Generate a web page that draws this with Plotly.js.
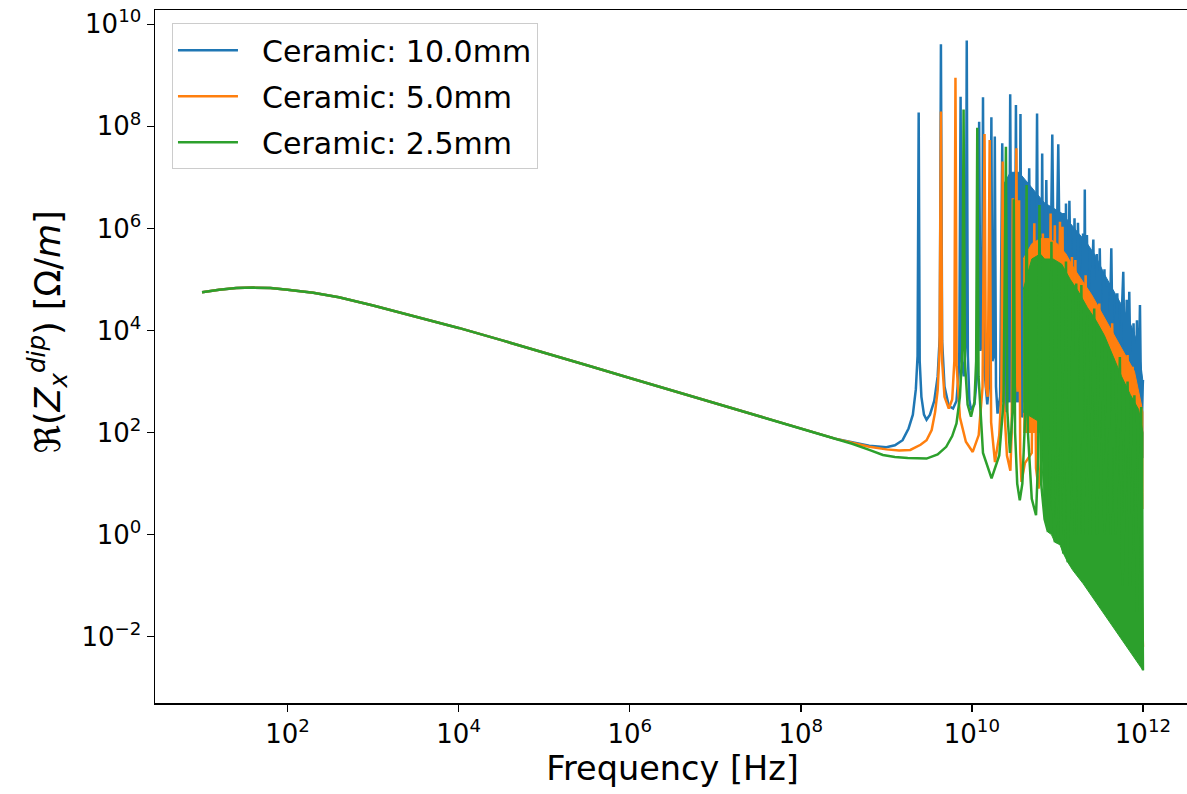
<!DOCTYPE html>
<html>
<head>
<meta charset="utf-8">
<script src="https://cdn.plot.ly/plotly-3.0.1.min.js"></script>
<style>html,body{margin:0;padding:0;background:#fff;overflow:hidden;}#chart{width:1192px;height:794px;}</style>
</head>
<body>
<div id="chart"></div>
<script>
// ---- data (log10 exponents) ----
const seriesNames = ['Ceramic: 10.0mm', 'Ceramic: 5.0mm', 'Ceramic: 2.5mm'];
const seriesColors = ['#1f77b4', '#ff7f0e', '#2ca02c'];
const xTitle = 'Frequency [Hz]';
const yTitle = '\u211C(<i>Z</i><sub><i>x</i></sub><sup><i>dip</i></sup>) [\u03A9/<i>m</i>]';

// shared low-frequency part (log10 f [Hz], log10 Re Z [Ohm/m])
const baseFreqExp = [1.0, 1.2, 1.4, 1.6, 1.8, 2.0, 2.3, 2.6, 3.0, 3.5, 4.0, 4.5, 5.0, 5.5, 6.0, 6.5, 7.0, 7.5, 8.0, 8.4];
const baseZExp    = [4.75, 4.80, 4.83, 4.84, 4.83, 4.80, 4.74, 4.65, 4.49, 4.27, 4.05, 3.81, 3.57, 3.32, 3.07, 2.82, 2.57, 2.32, 2.07, 1.88];

// 10.0 mm resonances
const blueFreqExp = [8.6, 8.8, 9.0, 9.1, 9.19, 9.26, 9.31, 9.345, 9.365, 9.378, 9.39, 9.41, 9.44, 9.47, 9.51, 9.56, 9.60, 9.625, 9.638, 9.652,
  9.68, 9.73, 9.78, 9.82, 9.852, 9.868, 9.882, 9.905, 9.928, 9.940, 9.953, 9.97, 9.99, 10.03, 10.065, 10.085, 10.10, 10.118, 10.130, 10.143,
  10.18, 10.21, 10.228, 10.240, 10.256, 10.268, 10.282, 10.30, 10.33, 10.355, 10.372, 10.40, 10.432, 10.448, 10.465, 10.50, 10.515, 10.530, 10.553, 10.568,
  10.585, 10.63, 10.670, 10.70, 10.74, 10.762, 10.78, 10.805, 10.822, 10.84, 10.870, 10.90, 10.940, 10.97, 11.010, 11.04, 11.070, 11.09, 11.100, 11.12,
  11.140, 11.17, 11.200, 11.22, 11.240, 11.27, 11.300, 11.31, 11.320, 11.33, 11.345, 11.37, 11.420, 11.44, 11.460, 11.48, 11.495, 11.52, 11.550, 11.565,
  11.580, 11.60, 11.630, 11.65, 11.700, 11.72, 11.770, 11.79, 11.810, 11.825, 11.840, 11.86, 11.890, 11.91, 11.930, 11.945, 11.965, 11.98, 12.0];
const blueZExp = [1.81, 1.74, 1.71, 1.75, 1.85, 2.08, 2.35, 2.85, 3.5, 8.27, 3.4, 2.7, 2.35, 2.25, 2.35, 2.62, 3.1, 3.9, 9.61, 3.8,
  2.9, 2.52, 2.47, 2.62, 3.3, 8.58, 3.4, 3.1, 3.8, 9.68, 3.5, 2.65, 2.44, 2.55, 3.2, 8.09, 3.6, 3.8, 8.57, 3.3,
  2.55, 3.1, 8.18, 3.4, 3.5, 7.80, 2.9, 2.37, 2.7, 7.67, 2.8, 2.4, 3.0, 8.63, 3.1, 3.3, 8.42, 3.1, 3.4, 8.24,
  2.3, 2.5, 7.18, 2.3, 2.6, 8.25, 2.4, 2.8, 7.47, 2.4, 6.95, 2.6, 7.84, 3.0, 7.65, 3.5, 6.3, 3.5, 6.49, 3.5,
  6.54, 3.5, 6.2, 3.5, 6.11, 3.5, 5.9, 3.5, 6.76, 3.5, 5.87, 3.5, 5.78, 3.2, 5.5, 3.2, 5.61, 3.0, 5.2, 3.0,
  4.86, 3.0, 5.61, 3.0, 4.73, 2.8, 5.15, 2.8, 4.6, 2.7, 4.76, 2.5, 4.14, 2.5, 4.2, 2.3, 4.50, 2.2, 3.03];
const blueBandTopFreqExp = [10.35, 10.45, 10.55, 10.65, 10.75, 10.85, 10.95, 11.05, 11.15, 11.25, 11.35, 11.45, 11.55, 11.65, 11.75, 11.85, 11.95, 12.0];
const blueBandTopExp     = [6.8, 7.1, 7.1, 6.9, 6.7, 6.5, 6.4, 6.3, 6.1, 5.9, 5.7, 5.45, 5.1, 4.8, 4.5, 4.15, 3.7, 3.0];
const blueBandBottomFreqExp = [10.35, 10.8, 11.5, 12.0];
const blueBandBottomExp     = [2.6, 2.6, 2.5, 1.5];

// 5.0 mm resonances
const orangeFreqExp = [8.6, 8.8, 9.0, 9.15, 9.28, 9.40, 9.47, 9.53, 9.57, 9.60, 9.622, 9.638, 9.652, 9.68, 9.73, 9.77, 9.795, 9.808, 9.822, 9.86,
  9.93, 10.01, 10.08, 10.125, 10.148, 10.165, 10.185, 10.208, 10.225, 10.27, 10.32, 10.345, 10.360, 10.375, 10.41, 10.45, 10.465, 10.478, 10.492, 10.508,
  10.520, 10.535, 10.542, 10.552, 10.565, 10.58, 10.62, 10.70, 10.730, 10.75, 10.78, 10.81, 10.830, 10.85, 10.88, 10.90, 10.920, 10.94, 10.970, 10.99,
  11.030, 11.045, 11.060, 11.08, 11.110, 11.13, 11.170, 11.19, 11.210, 11.23, 11.270, 11.29, 11.330, 11.36, 11.400, 11.43, 11.490, 11.51, 11.530, 11.56,
  11.600, 11.62, 11.640, 11.67, 11.700, 11.72, 11.750, 11.78, 11.820, 11.85, 11.880, 11.90, 11.920, 11.94, 11.960, 11.98, 12.0];
const orangeZExp = [1.80, 1.72, 1.67, 1.65, 1.66, 1.76, 1.85, 2.05, 2.4, 2.83, 3.6, 8.29, 3.4, 2.7, 2.47, 2.65, 3.4, 8.95, 3.3, 2.3,
  1.82, 1.62, 1.95, 2.9, 7.85, 2.9, 2.7, 7.73, 2.2, 1.42, 1.95, 2.8, 7.31, 2.6, 1.55, 1.25, 2.0, 6.59, 2.4, 3.0,
  7.57, 2.8, 3.0, 6.55, 1.6, 1.03, 1.4, 1.6, 6.10, 1.3, 0.9, 1.5, 5.9, 1.3, 0.6, 1.5, 6.29, 1.0, 6.06, 0.6,
  6.13, 1.0, 6.03, 1.0, 5.3, 1.0, 5.44, 1.0, 5.38, 1.0, 4.95, 1.0, 5.08, 1.0, 4.6, 1.0, 4.53, 1.0, 4.14, 1.0,
  3.9, 1.0, 4.14, 1.0, 3.6, 1.0, 3.52, 0.8, 3.52, 0.5, 3.29, 0.5, 2.76, 0.0, 2.24, -1.0, -2.2];
const orangeBandTopFreqExp = [10.6, 10.7, 10.8, 10.9, 11.0, 11.1, 11.2, 11.3, 11.4, 11.5, 11.6, 11.7, 11.8, 11.9, 12.0];
const orangeBandTopExp     = [5.4, 5.7, 5.8, 5.8, 5.7, 5.5, 5.2, 4.95, 4.7, 4.4, 4.1, 3.8, 3.5, 3.2, 2.4];
const orangeBandBottomFreqExp = [10.6, 10.85, 10.95, 12.0];
const orangeBandBottomExp     = [2.0, 2.0, 1.0, 0.5];

// 2.5 mm resonances
const greenFreqExp = [8.6, 8.8, 8.96, 9.1, 9.25, 9.47, 9.60, 9.70, 9.77, 9.82, 9.86, 9.888, 9.903, 9.918, 9.95, 9.99, 10.03, 10.05, 10.063, 10.078,
  10.13, 10.23, 10.32, 10.37, 10.398, 10.415, 10.445, 10.475, 10.490, 10.505, 10.53, 10.56, 10.59, 10.625, 10.640, 10.655, 10.70, 10.75, 10.775, 10.790,
  10.81, 10.85, 10.89, 10.915, 10.930, 10.95, 10.97, 11.00, 11.020, 11.04, 11.07, 11.085, 11.100, 11.12, 11.16, 11.180, 11.20, 11.220, 11.25, 11.280,
  11.30, 11.350, 11.38, 11.430, 11.46, 11.520, 11.55, 11.600, 11.62, 11.650, 11.68, 11.730, 11.76, 11.820, 11.85, 11.900, 11.93, 11.980, 12.0];
const greenZExp = [1.78, 1.66, 1.56, 1.52, 1.50, 1.49, 1.57, 1.72, 1.93, 2.18, 2.7, 3.6, 8.33, 3.4, 2.55, 2.31, 2.6, 3.4, 7.97, 3.1,
  1.6, 1.10, 1.55, 2.6, 7.60, 2.4, 1.6, 2.4, 6.57, 2.0, 1.0, 0.67, 1.0, 2.4, 6.85, 2.0, 0.7, 0.38, 1.5, 6.46,
  1.0, 0.3, 0.05, 1.4, 5.74, 0.5, -0.15, 0.8, 5.28, 0.0, -0.37, 1.5, 5.35, -0.54, 2.0, 4.6, 0.0, 4.92, 0.0, 4.89,
  0.0, 4.3, 0.0, 4.43, 0.0, 3.9, 0.0, 3.6, 0.0, 3.45, 0.0, 3.48, -1.0, 3.0, -1.0, 2.73, -1.5, 2.50, -2.66];
const greenBandTopFreqExp = [10.6, 10.7, 10.8, 10.85, 10.95, 11.05, 11.15, 11.25, 11.35, 11.45, 11.55, 11.65, 11.75, 11.85, 11.95, 12.0];
const greenBandTopExp     = [4.8, 5.4, 5.5, 5.4, 5.4, 5.3, 5.0, 4.75, 4.45, 4.2, 3.9, 3.5, 3.1, 2.75, 2.45, 2.0];
const greenBandBottomFreqExp = [10.6, 10.8, 10.85, 10.89, 10.93, 10.97, 11.03, 11.07, 11.12, 11.18, 11.24, 11.30, 12.0];
const greenBandBottomExp     = [2.4, 2.2, 0.3, 0.05, 0.0, -0.15, -0.2, -0.37, -0.54, -0.70, -0.83, -0.96, -2.66];

// axis ticks
const xTickVals = [1e2, 1e4, 1e6, 1e8, 1e10, 1e12];
const xTickText = ['10<sup>2</sup>', '10<sup>4</sup>', '10<sup>6</sup>', '10<sup>8</sup>', '10<sup>10</sup>', '10<sup>12</sup>'];
const yTickVals = [1e-2, 1e0, 1e2, 1e4, 1e6, 1e8, 1e10];
const yTickText = ['10<sup>\u22122</sup>', '10<sup>0</sup>', '10<sup>2</sup>', '10<sup>4</sup>', '10<sup>6</sup>', '10<sup>8</sup>', '10<sup>10</sup>'];

// ---- build traces ----
const p10 = a => a.map(v => Math.pow(10, v));
const NB = '\u00a0';

function band(topF, topZ, botF, botZ, color) {
  const fx = topF.concat(botF.slice().reverse());
  const fy = topZ.concat(botZ.slice().reverse());
  return {x: p10(fx), y: p10(fy), mode: 'lines', fill: 'toself', fillcolor: color,
          line: {color: color, width: 1}, showlegend: false, hoverinfo: 'skip'};
}
function line(fe, ze, name, color, grp) {
  return {x: p10(baseFreqExp.concat(fe)), y: p10(baseZExp.concat(ze)), mode: 'lines', name: NB + NB + name,
          legendgroup: grp, line: {color: color, width: 2.5}};
}

const traces = [
  band(blueBandTopFreqExp, blueBandTopExp, blueBandBottomFreqExp, blueBandBottomExp, seriesColors[0]),
  line(blueFreqExp, blueZExp, seriesNames[0], seriesColors[0], 'g1'),
  band(orangeBandTopFreqExp, orangeBandTopExp, orangeBandBottomFreqExp, orangeBandBottomExp, seriesColors[1]),
  line(orangeFreqExp, orangeZExp, seriesNames[1], seriesColors[1], 'g2'),
  band(greenBandTopFreqExp, greenBandTopExp, greenBandBottomFreqExp, greenBandBottomExp, seriesColors[2]),
  line(greenFreqExp, greenZExp, seriesNames[2], seriesColors[2], 'g3')
];

const font = 'DejaVu Sans, sans-serif';
const layout = {
  width: 1192, height: 794,
  margin: {l: 155, r: 2, t: 10, b: 91},
  paper_bgcolor: '#ffffff', plot_bgcolor: '#ffffff',
  font: {family: font, color: '#000000'},
  showlegend: true,
  legend: {x: 0.0164, y: 0.981, xanchor: 'left', yanchor: 'top', traceorder: 'grouped', tracegroupgap: 4,
           itemwidth: 60,
           bgcolor: 'rgba(255,255,255,0.8)', bordercolor: '#cccccc', borderwidth: 1,
           font: {family: font, size: 30, color: '#000000'}},
  xaxis: {type: 'log', range: [0.45, 12.55], tickmode: 'array', tickvals: xTickVals, ticktext: xTickText,
          ticks: 'outside', ticklen: 7, tickwidth: 1.5, tickcolor: '#000',
          showline: true, mirror: true, linecolor: '#000', linewidth: 1.5,
          showgrid: false, zeroline: false, tickfont: {family: font, size: 26, color: '#000'},
          title: {text: xTitle, font: {family: font, size: 33.5, color: '#000'}, standoff: 8}},
  yaxis: {type: 'log', range: [-3.30, 10.28], tickmode: 'array', tickvals: yTickVals, ticktext: yTickText,
          ticks: 'outside', ticklen: 7, tickwidth: 1.5, tickcolor: '#000',
          showline: true, mirror: true, linecolor: '#000', linewidth: 1.5,
          showgrid: false, zeroline: false, tickfont: {family: font, size: 26, color: '#000'},
          title: {text: ''}},
  annotations: [{
    text: yTitle, xref: 'paper', yref: 'paper', x: -0.104, y: 0.535, xanchor: 'center', yanchor: 'middle',
    textangle: -90, showarrow: false, font: {family: font, size: 35, color: '#000'}
  }]
};

Plotly.newPlot('chart', traces, layout, {displayModeBar: false, staticPlot: true});
</script>
</body>
</html>
